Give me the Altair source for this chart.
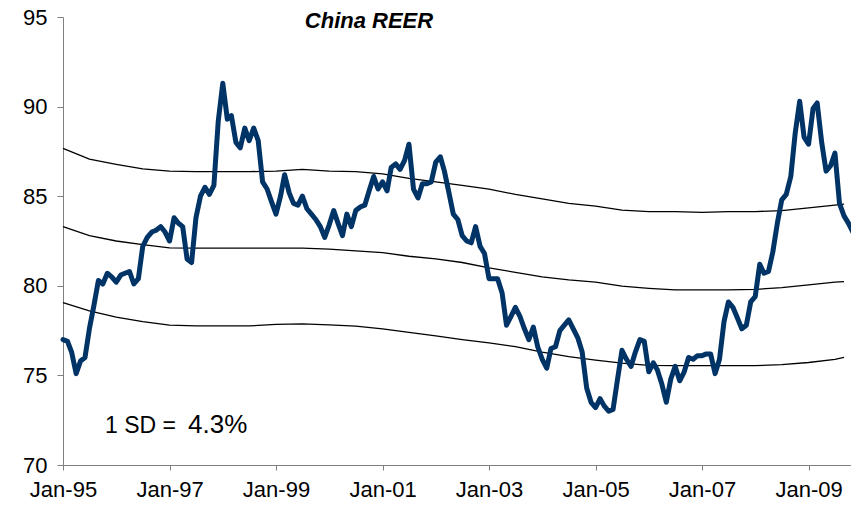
import altair as alt
import pandas as pd

# China REER index, monthly, Jan-95 .. Dec-09
reer = [
    77.0, 76.9, 76.3, 75.1, 75.8, 76.0, 77.6, 78.9, 80.3, 80.1, 80.7, 80.5,   # 1995
    80.2, 80.6, 80.7, 80.8, 80.1, 80.4, 82.2, 82.7, 83.0, 83.1, 83.3, 83.0,   # 1996
    82.5, 83.8, 83.5, 83.3, 81.5, 81.3, 83.8, 85.0, 85.5, 85.1, 85.6, 89.2,   # 1997
    91.3, 89.3, 89.5, 88.0, 87.7, 88.8, 88.1, 88.8, 88.1, 85.8, 85.4, 84.7,   # 1998
    84.0, 85.0, 86.2, 85.2, 84.6, 84.5, 85.0, 84.3, 84.0, 83.7, 83.3, 82.7,   # 1999
    83.4, 84.2, 83.5, 82.8, 84.0, 83.3, 84.2, 84.4, 84.5, 85.3, 86.1, 85.4,   # 2000
    85.8, 85.3, 86.6, 86.8, 86.5, 87.0, 87.9, 85.4, 84.9, 85.7, 85.7, 85.8,   # 2001
    86.9, 87.2, 86.4, 85.2, 84.0, 83.7, 82.8, 82.5, 82.4, 83.3, 82.2, 81.8,   # 2002
    80.4, 80.4, 80.4, 79.6, 77.8, 78.3, 78.8, 78.3, 77.6, 77.0, 77.7, 76.6,   # 2003
    75.9, 75.4, 76.5, 76.6, 77.5, 77.8, 78.1, 77.6, 77.1, 76.3, 74.3, 73.5,   # 2004
    73.2, 73.7, 73.3, 73.0, 73.1, 74.8, 76.4, 75.9, 75.5, 76.3, 77.0, 76.9,   # 2005
    75.2, 75.7, 75.3, 74.5, 73.5, 74.8, 75.5, 74.7, 75.2, 76.0, 75.9, 76.1,   # 2006
    76.1, 76.2, 76.2, 75.1, 75.9, 78.0, 79.1, 78.8, 78.2, 77.6, 77.8, 79.1,   # 2007
    79.4, 81.2, 80.7, 80.8, 81.9, 83.5, 84.8, 85.1, 86.1, 88.5, 90.3, 88.3,   # 2008
    87.9, 89.9, 90.2, 88.0, 86.4, 86.7, 87.4, 84.6, 83.9, 83.5, 83.0, 82.3,   # 2009
]

# Mean and +/- 1 SD bands, sampled every six months (months since Jan-95)
band_month = [0, 6, 12, 18, 24, 30, 36, 42, 48, 54, 60, 66, 72, 78, 84, 90,
              96, 102, 108, 114, 120, 126, 132, 138, 144, 150, 156, 162, 168, 174, 176]
band_upper = [87.67, 87.07, 86.78, 86.52, 86.40, 86.37, 86.37, 86.37, 86.40, 86.50,
              86.40, 86.37, 86.25, 86.00, 85.80, 85.60, 85.40, 85.10, 84.85, 84.60,
              84.45, 84.22, 84.14, 84.14, 84.10, 84.14, 84.14, 84.20, 84.35, 84.50, 84.56]
band_mean = [83.30, 82.80, 82.50, 82.30, 82.12, 82.10, 82.10, 82.10, 82.10, 82.10,
             82.05, 81.95, 81.85, 81.65, 81.50, 81.30, 81.00, 80.75, 80.50, 80.33,
             80.20, 79.98, 79.86, 79.77, 79.77, 79.77, 79.80, 79.90, 80.05, 80.20, 80.23]
band_lower = [79.06, 78.60, 78.25, 78.00, 77.80, 77.76, 77.76, 77.76, 77.85, 77.87,
              77.82, 77.75, 77.60, 77.40, 77.20, 77.00, 76.82, 76.60, 76.30, 76.05,
              75.85, 75.68, 75.56, 75.54, 75.54, 75.54, 75.54, 75.60, 75.72, 75.90, 76.00]

y_ticks = [70, 75, 80, 85, 90, 95]
x_tick_years = [1995, 1997, 1999, 2001, 2003, 2005, 2007, 2009]
title_text = "China REER"
sd_label = "1 SD ="
sd_value = "4.3%"

start = pd.Timestamp("1995-01-01")
reer_df = pd.DataFrame({
    "date": pd.date_range(start, periods=len(reer), freq="MS"),
    "value": reer,
})

band_rows = []
for name, vals in (("upper", band_upper), ("mean", band_mean), ("lower", band_lower)):
    for m, v in zip(band_month, vals):
        band_rows.append({"date": start + pd.DateOffset(months=m), "value": v, "series": name})
band_df = pd.DataFrame(band_rows)

FONT = "Liberation Sans"
AX = "#808080"

x_scale = alt.Scale(domain=[alt.DateTime(year=1995, month=1, date=1),
                            alt.DateTime(year=2009, month=10, date=19)])
y_scale = alt.Scale(domain=[70, 95], nice=False, zero=False)

x_axis = alt.Axis(
    values=[alt.DateTime(year=yr, month=1, date=1) for yr in x_tick_years],
    format="%b-%y", title=None, grid=False,
    labelFont=FONT, labelFontSize=22, labelColor="black",
    domainColor=AX, tickColor=AX, tickSize=5, labelPadding=9,
    labelFlush=False, labelOverlap=False,
)
y_axis = alt.Axis(
    values=y_ticks, title=None, grid=False,
    labelFont=FONT, labelFontSize=22, labelColor="black",
    domainColor=AX, tickColor=AX, tickSize=6, labelPadding=10,
)

bands = alt.Chart(band_df).mark_line(color="black", strokeWidth=1.3).encode(
    x=alt.X("date:T", scale=x_scale, axis=x_axis),
    y=alt.Y("value:Q", scale=y_scale, axis=y_axis),
    detail="series:N",
)

line = alt.Chart(reer_df).mark_line(
    color="#003366", strokeWidth=5, strokeJoin="round", strokeCap="round"
).encode(
    x=alt.X("date:T", scale=x_scale),
    y=alt.Y("value:Q", scale=y_scale),
)

title = alt.Chart(pd.DataFrame({"t": [title_text]})).mark_text(
    font=FONT, fontSize=22, fontWeight="bold", fontStyle="italic",
    align="center", baseline="alphabetic", color="black",
).encode(text="t:N", x=alt.value(306), y=alt.value(11))

sd1 = alt.Chart(pd.DataFrame({"t": [sd_label]})).mark_text(
    font=FONT, fontSize=23, align="left", baseline="alphabetic", color="black",
).encode(text="t:N", x=alt.value(42), y=alt.value(416))

sd2 = alt.Chart(pd.DataFrame({"t": [sd_value]})).mark_text(
    font=FONT, fontSize=26, align="left", baseline="alphabetic", color="black",
).encode(text="t:N", x=alt.value(125), y=alt.value(416))

chart = alt.layer(bands, line, title, sd1, sd2).properties(
    width=788, height=448,
    autosize=alt.AutoSizeParams(type="none"),
    padding={"left": 55, "top": 9, "right": 0, "bottom": 38},
).configure_view(stroke=None)

chart.save("out.html", embed_options={"renderer": "svg", "actions": False})
